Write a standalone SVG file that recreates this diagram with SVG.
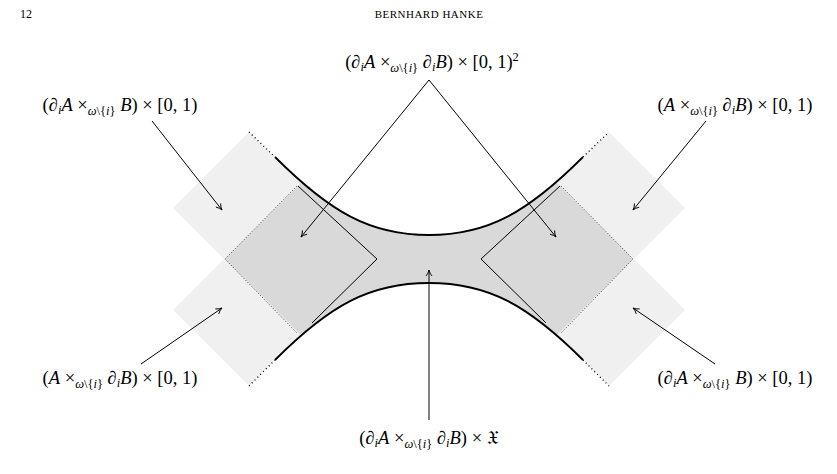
<svg xmlns="http://www.w3.org/2000/svg" width="837" height="474" viewBox="0 0 837 474">
<style>
text{font-family:"Liberation Serif","DejaVu Serif",serif;font-size:18.5px;fill:#000}
.i{font-style:italic}
.s{font-size:12.5px}
.dot{fill:none;stroke:#000;stroke-width:1.3;stroke-dasharray:1 3}
.fd{fill:none;stroke:#000;stroke-width:0.8;stroke-dasharray:1 2}
.cv{fill:none;stroke:#000;stroke-width:1.8}
.ln{fill:none;stroke:#000;stroke-width:1}
</style>
<defs>
<marker id="ar" markerWidth="8" markerHeight="8" refX="7" refY="4" orient="auto" markerUnits="userSpaceOnUse"><path d="M1,1 Q4,3.5 7,4 Q4,4.5 1,7" fill="none" stroke="#000" stroke-width="0.9"/></marker>
<path id="band" d="M249,132 L275,157 C330,212 370,235 429,235 C488,235 528,212 583,157 L609,132 L700,132 L700,386 L609,386 L583,360 C528,305 488,283 429,283 C370,283 330,305 275,360 L249,386 L150,386 L150,132 Z"/>
<clipPath id="outer"><polygon points="249,132 173,208 224,259 173,310 249,386 609,386 685,310 634,259 685,208 609,132"/></clipPath>
<clipPath id="inner"><polygon points="225,259 330,154 528,154 633,259 528,364 330,364"/></clipPath>
</defs>
<text x="20" y="18" style="font-size:12px">12</text>
<text x="429" y="18" text-anchor="middle" style="font-size:11px;letter-spacing:0.5px">BERNHARD HANKE</text>
<g id="regions">
<use href="#band" fill="#f0f0f0" clip-path="url(#outer)"/>
<use href="#band" fill="#d9d9d9" clip-path="url(#inner)"/>
</g>
<g id="boundaries">
<path class="cv" d="M275,157 C330,212 370,235 429,235 C488,235 528,212 583,157"/>
<path class="cv" d="M275,360 C330,305 370,283 429,283 C488,283 528,305 583,360"/>
<path class="dot" d="M249,132 L275,157 M583,157 L609,132 M249,386 L275,360 M583,360 L609,386"/>
<path class="fd" d="M297,186 L225,259 L297,333 M561,186 L633,259 L561,333"/>
<path class="ln" d="M298,186 L377,259 L312,323 M560,186 L481,259 L546,323"/>
</g>
<g id="connectors">
<path class="ln" marker-end="url(#ar)" d="M429,80 L301,237"/>
<path class="ln" marker-end="url(#ar)" d="M429,80 L556,237"/>
<path class="ln" marker-end="url(#ar)" d="M152,121 L222,210"/>
<path class="ln" marker-end="url(#ar)" d="M141,364 L222,308"/>
<path class="ln" marker-end="url(#ar)" d="M706,121 L633,210"/>
<path class="ln" marker-end="url(#ar)" d="M715,364 L633,308"/>
<path class="ln" marker-end="url(#ar)" d="M429,420 L429,270"/>
</g>
<g id="label-top"><text x="432" y="68" text-anchor="middle">(∂<tspan class="i s" dy="3">i</tspan><tspan class="i" dy="-3">A</tspan> ×<tspan class="i s" dy="4">ω</tspan><tspan class="s">\{</tspan><tspan class="s i">i</tspan><tspan class="s">}</tspan> <tspan dy="-4">∂</tspan><tspan class="i s" dy="3">i</tspan><tspan class="i" dy="-3">B</tspan>) × [0, 1)<tspan class="s" dy="-7">2</tspan></text></g>
<g id="label-tl"><text x="120" y="111" text-anchor="middle">(∂<tspan class="i s" dy="3">i</tspan><tspan class="i" dy="-3">A</tspan> ×<tspan class="i s" dy="4">ω</tspan><tspan class="s">\{</tspan><tspan class="s i">i</tspan><tspan class="s">}</tspan> <tspan class="i" dy="-4">B</tspan>) × [0, 1)</text></g>
<g id="label-tr"><text x="735" y="111" text-anchor="middle">(<tspan class="i">A</tspan> ×<tspan class="i s" dy="4">ω</tspan><tspan class="s">\{</tspan><tspan class="s i">i</tspan><tspan class="s">}</tspan> <tspan dy="-4">∂</tspan><tspan class="i s" dy="3">i</tspan><tspan class="i" dy="-3">B</tspan>) × [0, 1)</text></g>
<g id="label-bl"><text x="120" y="384" text-anchor="middle">(<tspan class="i">A</tspan> ×<tspan class="i s" dy="4">ω</tspan><tspan class="s">\{</tspan><tspan class="s i">i</tspan><tspan class="s">}</tspan> <tspan dy="-4">∂</tspan><tspan class="i s" dy="3">i</tspan><tspan class="i" dy="-3">B</tspan>) × [0, 1)</text></g>
<g id="label-br"><text x="735" y="384" text-anchor="middle">(∂<tspan class="i s" dy="3">i</tspan><tspan class="i" dy="-3">A</tspan> ×<tspan class="i s" dy="4">ω</tspan><tspan class="s">\{</tspan><tspan class="s i">i</tspan><tspan class="s">}</tspan> <tspan class="i" dy="-4">B</tspan>) × [0, 1)</text></g>
<g id="label-bottom"><text x="429" y="444" text-anchor="middle">(∂<tspan class="i s" dy="3">i</tspan><tspan class="i" dy="-3">A</tspan> ×<tspan class="i s" dy="4">ω</tspan><tspan class="s">\{</tspan><tspan class="s i">i</tspan><tspan class="s">}</tspan> <tspan dy="-4">∂</tspan><tspan class="i s" dy="3">i</tspan><tspan class="i" dy="-3">B</tspan>) × 𝔛</text></g>
</svg>
